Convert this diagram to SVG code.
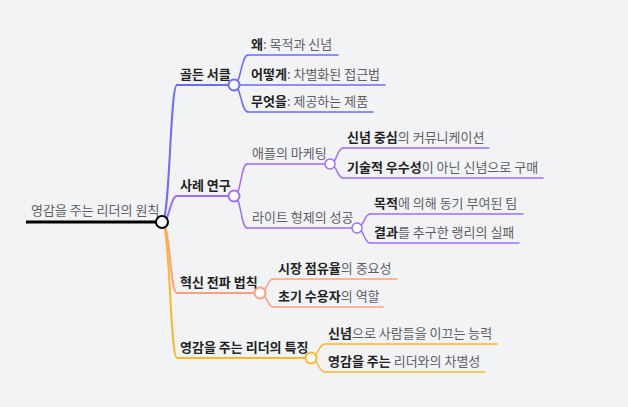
<svg xmlns="http://www.w3.org/2000/svg" width="628" height="407" viewBox="0 0 628 407">
<style>
text{font-family:"Noto Sans CJK KR","Noto Sans",sans-serif;font-size:13px;fill:#5f5f66}
.b{font-weight:bold;fill:#222}
.l{fill:none;stroke-linecap:round}
.c1{stroke:#6b6bff}.c2{stroke:#a06eff}.c3{stroke:#ffa17e}.c4{stroke:#ffb628}
.w1{stroke-width:2}.w2{stroke-width:1.5}
.dot{fill:#fff}
</style>
<rect width="628" height="407" fill="#f2f3f5"/>
<g id="connectors">
<path class="l c1 w1" d="M162,222 C170,222 170,85 177,85"/>
<path class="l c2 w1" d="M162,222 C170,222 170,196 177,196"/>
<path class="l c3 w1" d="M162,222 C170,222 170,293 177,293"/>
<path class="l c4 w1" d="M162,222 C170,222 170,358 177,358"/>
<path class="l c1 w2" d="M234,85 C241,85 241,55 248,55"/>
<path class="l c1 w2" d="M234,85 L248,85"/>
<path class="l c1 w2" d="M234,85 C241,85 241,112 248,112"/>
<path class="l c2 w2" d="M234,196 C241,196 241,164 247,164"/>
<path class="l c2 w2" d="M234,196 C241,196 241,228 247,228"/>
<path class="l c2 w2" d="M330,164 C337,164 337,148 343,148"/>
<path class="l c2 w2" d="M330,164 C337,164 337,178 343,178"/>
<path class="l c2 w2" d="M357,228 C364,228 364,214 370,214"/>
<path class="l c2 w2" d="M357,228 C364,228 364,243 370,243"/>
<path class="l c3 w2" d="M260,293 C267,293 267,279 273,279"/>
<path class="l c3 w2" d="M260,293 C267,293 267,307 273,307"/>
<path class="l c4 w2" d="M311,358 C318,358 318,344 325,344"/>
<path class="l c4 w2" d="M311,358 C318,358 318,372 325,372"/>
</g>
<g id="n-why">
<path class="l c1 w2" d="M248,55 H338"/>
<text x="251" y="49"><tspan class="b">왜</tspan>: 목적과 신념</text>
</g>
<g id="n-how">
<path class="l c1 w2" d="M248,85 H385"/>
<text x="251" y="79"><tspan class="b">어떻게</tspan>: 차별화된 접근법</text>
</g>
<g id="n-what">
<path class="l c1 w2" d="M248,112 H373"/>
<text x="251" y="106"><tspan class="b">무엇을</tspan>: 제공하는 제품</text>
</g>
<g id="n-belief-comm">
<path class="l c2 w2" d="M343,148 H489"/>
<text x="347" y="142"><tspan class="b">신념 중심</tspan>의 커뮤니케이션</text>
</g>
<g id="n-buy-belief">
<path class="l c2 w2" d="M343,178 H543"/>
<text x="347" y="172"><tspan class="b">기술적 우수성</tspan>이 아닌 신념으로 구매</text>
</g>
<g id="n-purpose-team">
<path class="l c2 w2" d="M370,214 H523"/>
<text x="374" y="208"><tspan class="b">목적</tspan>에 의해 동기 부여된 팀</text>
</g>
<g id="n-langley">
<path class="l c2 w2" d="M370,243 H519"/>
<text x="374" y="237"><tspan class="b">결과</tspan>를 추구한 랭리의 실패</text>
</g>
<g id="n-apple">
<path class="l c2 w2" d="M247,164 H330"/>
<text x="252" y="158">애플의 마케팅</text>
<circle class="dot c2 w2" cx="330" cy="164" r="5"/>
</g>
<g id="n-wright">
<path class="l c2 w2" d="M247,228 H357"/>
<text x="252" y="222">라이트 형제의 성공</text>
<circle class="dot c2 w2" cx="357" cy="228" r="5"/>
</g>
<g id="n-share">
<path class="l c3 w2" d="M273,279 H397"/>
<text x="278" y="273"><tspan class="b">시장 점유율</tspan>의 중요성</text>
</g>
<g id="n-early">
<path class="l c3 w2" d="M273,307 H383"/>
<text x="278" y="301"><tspan class="b">초기 수용자</tspan>의 역할</text>
</g>
<g id="n-lead">
<path class="l c4 w2" d="M325,344 H497"/>
<text x="328" y="338"><tspan class="b">신념</tspan>으로 사람들을 이끄는 능력</text>
</g>
<g id="n-diff">
<path class="l c4 w2" d="M325,372 H485"/>
<text x="328" y="366"><tspan class="b">영감을 주는</tspan> 리더와의 차별성</text>
</g>
<g id="n-golden">
<path class="l c1 w1" d="M177,85 H234"/>
<text class="b" x="180" y="79">골든 서클</text>
<circle class="dot c1 w1" cx="234" cy="85" r="5.5"/>
</g>
<g id="n-cases">
<path class="l c2 w1" d="M177,196 H234"/>
<text class="b" x="180" y="190">사례 연구</text>
<circle class="dot c2 w1" cx="234" cy="196" r="5.5"/>
</g>
<g id="n-diffusion">
<path class="l c3 w1" d="M177,293 H260"/>
<text class="b" x="180" y="287">혁신 전파 법칙</text>
<circle class="dot c3 w1" cx="260" cy="293" r="5.5"/>
</g>
<g id="n-traits">
<path class="l c4 w1" d="M177,358 H311"/>
<text class="b" x="180" y="352">영감을 주는 리더의 특징</text>
<circle class="dot c4 w1" cx="311" cy="358" r="5.5"/>
</g>
<g id="n-root">
<path d="M26,222 H162" stroke="#000" stroke-width="3" fill="none"/>
<text x="31" y="215" fill="#555">영감을 주는 리더의 원칙</text>
<circle cx="162" cy="222" r="6" fill="#fff" stroke="#000" stroke-width="2"/>
</g>
</svg>
